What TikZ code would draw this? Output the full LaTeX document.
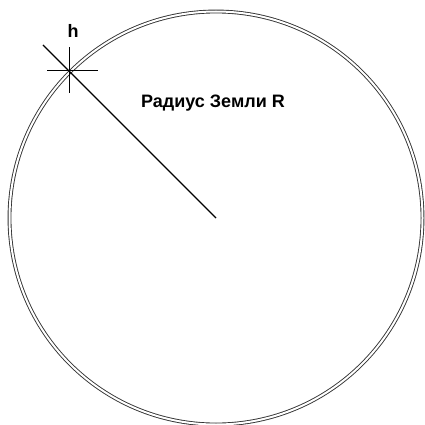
\documentclass[tikz,border=0pt]{standalone}
\usepackage{fontspec}
\setmainfont{Liberation Sans}
\begin{document}
\begin{tikzpicture}[x=1pt,y=-1pt,
  ring/.style={draw=black!80,line width=0.9pt,double=white,double distance=2pt},
  rad/.style={draw=black,line width=1.3pt},
  tick/.style={draw=black,line width=1pt},
  lbl/.style={font=\bfseries\fontsize{18}{20}\selectfont,inner sep=0pt}]
\useasboundingbox (0,0) rectangle (425,425);
\fill[white] (0,0) rectangle (425,425);
\coordinate (c) at (216,218);
\coordinate (e) at (43,45);
\coordinate (s) at (69,71);
\draw[ring] (c) circle[radius=206.5];
\draw[rad] (c) -- (e);
\draw[tick] ([xshift=-22pt]s) -- ([xshift=29pt]s);
\draw[tick] ([yshift=-22pt]s) -- ([yshift=24pt]s);
\node[lbl] (h) at (73,31) {h};
\node[lbl] (r) at (213,103) {Радиус Земли R};
\end{tikzpicture}
\end{document}
